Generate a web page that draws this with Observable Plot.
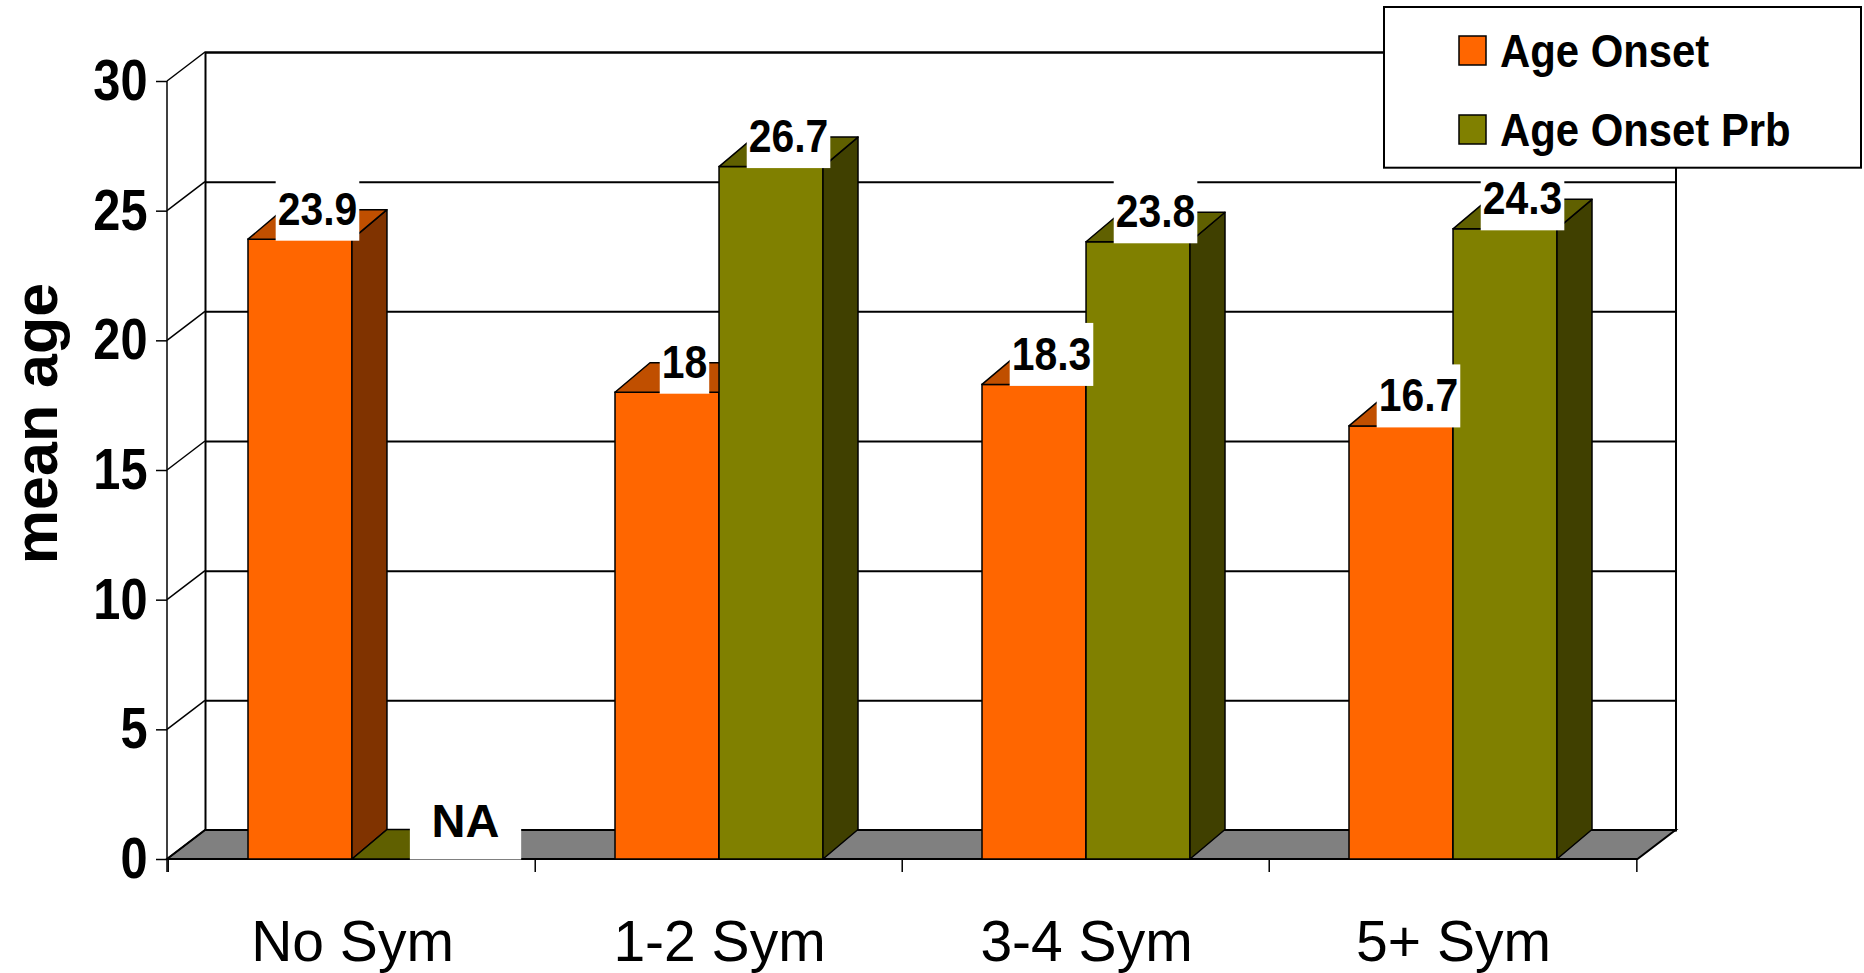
<!DOCTYPE html>
<html><head><meta charset="utf-8">
<script src="https://cdn.jsdelivr.net/npm/d3@7"></script>
<script src="https://cdn.jsdelivr.net/npm/@observablehq/plot@0.6"></script>
<style>
html,body{margin:0;padding:0;background:#fff;overflow:hidden;}
#wrap{position:relative;width:1864px;height:973px;}
</style></head><body><div id="wrap"></div>
<script>
// ---- data ----
const categories = ["No Sym", "1-2 Sym", "3-4 Sym", "5+ Sym"];
const seriesNames = ["Age Onset", "Age Onset Prb"];
const ageOnset = [23.9, 18, 18.3, 16.7];
const ageOnsetPrb = [null, 26.7, 23.8, 24.3];
const yTicks = [0, 5, 10, 15, 20, 25, 30];
const yLabel = "mean age";
const naText = "NA";

// ---- style ----
const frontColors = ["#ff6600", "#808000"];
const topColors = ["#c04f00", "#606000"];
const sideColors = ["#803300", "#404000"];
const W = 1864, H = 973;
const margin = {left: 167, right: 226.5, top: 81, bottom: 114};
const wall = {dx: 38, dy: -29};
const depth = {dx: 35, dy: -29.5};
const pad = {inner: 0.434, outer: 0.217};
const font = "'Liberation Sans', Arial, Helvetica, sans-serif";

const xs = Plot.scale({x: {type: "band", domain: categories, range: [margin.left, W - margin.right], paddingInner: pad.inner, paddingOuter: pad.outer}});
const bw = xs.bandwidth;
const step = xs.step ?? bw / (1 - pad.inner);

const onsetRows = categories.map((category, i) => ({category, series: seriesNames[0], value: ageOnset[i]}));
const prbRows = categories.map((category, i) => ({category, series: seriesNames[1], value: ageOnsetPrb[i]}));

const labelFont = {fontSize: 47, fontWeight: "bold", fill: "black", lineAnchor: "bottom", textAnchor: "middle"};

const plot = Plot.plot({
  width: W, height: H,
  marginLeft: margin.left, marginRight: margin.right, marginTop: margin.top, marginBottom: margin.bottom,
  x: {type: "band", domain: categories, paddingInner: pad.inner, paddingOuter: pad.outer},
  y: {domain: [0, 30]},
  style: {fontFamily: font, color: "black", background: "white", overflow: "visible"},
  marks: [
    Plot.frame({dx: wall.dx, dy: wall.dy, stroke: "black", strokeWidth: 2, fill: "white"}),
    Plot.ruleY(yTicks, {dx: wall.dx, dy: wall.dy, stroke: "black", strokeWidth: 2}),
    Plot.barY(onsetRows, {x: "category", y: "value", fill: frontColors[0], stroke: "black", strokeWidth: 1.5, insetRight: bw / 2}),
    Plot.barY(prbRows, {x: "category", y: d => d.value ?? 0, fill: frontColors[1], stroke: "black", strokeWidth: 1.5, insetLeft: bw / 2}),
    Plot.text(onsetRows, {x: "category", y: "value", text: d => String(d.value), dx: -bw / 4 + 17, dy: -15, ...labelFont}),
    Plot.text(prbRows.filter(d => d.value != null), {x: "category", y: "value", text: d => String(d.value), dx: bw / 4 + 17, dy: -15, ...labelFont}),
    Plot.text(prbRows.filter(d => d.value == null), {x: "category", y: () => 0, text: () => naText, dx: bw / 4 + 61, dy: -22.6, ...labelFont}),
    Plot.text([yLabel], {frameAnchor: "left", text: d => d, rotate: -90, dx: -111, dy: -47, fontSize: 61, fontWeight: "bold", lineAnchor: "bottom", textAnchor: "middle", fill: "black"}),
    Plot.axisY({ticks: yTicks, tickSize: 11, tickPadding: 9, fontSize: 58, fontWeight: "bold", strokeWidth: 1.5, label: null}),
    Plot.axisX({tickSize: 0, tickPadding: 61, fontSize: 57, label: null})
  ]
});
document.getElementById("wrap").appendChild(plot);

// ---- 3D decoration from the plot's own scales ----
const NS = "http://www.w3.org/2000/svg";
const ys = plot.scale("y");
const xr = plot.scale("x").range;
const x0 = xr[0], x1 = xr[1];
const y0 = ys.apply(0);
const el = (tag, attrs) => { const e = document.createElementNS(NS, tag); for (const k in attrs) e.setAttribute(k, attrs[k]); return e; };
const pts = a => a.map(p => p.join(",")).join(" ");

const barGroups = Array.from(plot.querySelectorAll('g[aria-label="bar"]'));
const deco = el("g", {});
barGroups[0].parentNode.insertBefore(deco, barGroups[0]);
// floor
deco.appendChild(el("polygon", {points: pts([[x0, y0], [x1, y0], [x1 + wall.dx, y0 + wall.dy], [x0 + wall.dx, y0 + wall.dy]]), fill: "#808080", stroke: "black", "stroke-width": 2, "stroke-linejoin": "miter"}));
// left wall diagonals
for (const t of yTicks) {
  const yy = ys.apply(t);
  deco.appendChild(el("line", {x1: x0, y1: yy, x2: x0 + wall.dx, y2: yy + wall.dy, stroke: "black", "stroke-width": 1.5}));
}
// front axis line
deco.appendChild(el("line", {x1: x0, y1: ys.apply(30), x2: x0, y2: y0 + 13, stroke: "black", "stroke-width": 1.5}));
// category boundary ticks
const xsc = plot.scale("x");
const bounds = categories.map(c => xsc.apply(c) - (step - bw) / 2);
bounds.push(xsc.apply(categories[categories.length - 1]) + bw + (step - bw) / 2);
for (const b of bounds) deco.appendChild(el("line", {x1: b, y1: y0, x2: b, y2: y0 + 13, stroke: "black", "stroke-width": 1.5}));

// bar sides and tops
barGroups.forEach((g, k) => {
  const g3 = el("g", {});
  if (g.getAttribute("transform")) g3.setAttribute("transform", g.getAttribute("transform"));
  g.parentNode.insertBefore(g3, g.nextSibling);
  g.querySelectorAll("rect").forEach(r => {
    const x = +r.getAttribute("x"), y = +r.getAttribute("y"), w = +r.getAttribute("width"), h = +r.getAttribute("height");
    g3.appendChild(el("polygon", {points: pts([[x + w, y], [x + w + depth.dx, y + depth.dy], [x + w + depth.dx, y + h + depth.dy], [x + w, y + h]]), fill: sideColors[k], stroke: "black", "stroke-width": 1.5, "stroke-linejoin": "round"}));
    g3.appendChild(el("polygon", {points: pts([[x, y], [x + w, y], [x + w + depth.dx, y + depth.dy], [x + depth.dx, y + depth.dy]]), fill: topColors[k], stroke: "black", "stroke-width": 1.5, "stroke-linejoin": "round"}));
  });
});

// text compression + label boxes
function squeeze(t, ratio) {
  const L = t.getComputedTextLength();
  t.setAttribute("textLength", L * ratio);
  t.setAttribute("lengthAdjust", "spacingAndGlyphs");
  return L;
}
const textGroups = Array.from(plot.querySelectorAll('g[aria-label="text"]'));
textGroups.slice(0, 3).forEach((g, k) => {
  g.querySelectorAll("text").forEach(t => {
    const bb = t.getBBox();
    const ratio = k === 2 ? 1 : 0.87;
    const cx = bb.x + bb.width / 2;
    const w = bb.width * ratio;
    const padX = k === 2 ? 21.7 : 2;
    const extraBottom = k === 2 ? 12.6 : 6;
    const box = el("rect", {x: cx - w / 2 - padX, y: bb.y - 4, width: w + 2 * padX, height: bb.height + 4 + extraBottom, fill: "white"});
    if (t.getAttribute("transform")) box.setAttribute("transform", t.getAttribute("transform"));
    t.parentNode.insertBefore(box, t);
    if (ratio !== 1) squeeze(t, ratio);
  });
});
plot.querySelectorAll('g[aria-label="y-axis tick label"] text').forEach(t => squeeze(t, 0.84));

// ---- legend ----
const leg = d3.select("#wrap").append("svg").attr("width", W).attr("height", H)
  .style("position", "absolute").style("left", 0).style("top", 0).style("pointer-events", "none");
leg.append("rect").attr("x", 1384).attr("y", 7).attr("width", 477).attr("height", 160.7).attr("fill", "white").attr("stroke", "black").attr("stroke-width", 2);
seriesNames.forEach((s, i) => {
  const by = 36 + i * 79;
  leg.append("rect").attr("x", 1459).attr("y", by).attr("width", 27).attr("height", 29).attr("fill", frontColors[i]).attr("stroke", "black").attr("stroke-width", 1.5);
  const t = leg.append("text").attr("x", 1500).attr("y", by + 30.7).attr("font-family", font).attr("font-weight", "bold").attr("font-size", 46.5).attr("fill", "black").text(s);
  squeeze(t.node(), 0.9);
});
</script></body></html>
